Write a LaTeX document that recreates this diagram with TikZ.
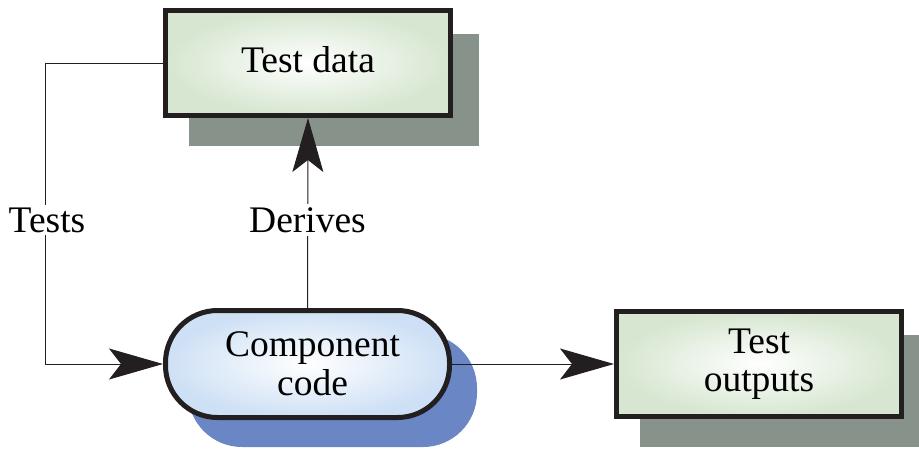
\documentclass[tikz,border=0pt]{standalone}
\usepackage{fontspec}
\setmainfont{Liberation Serif}
\usetikzlibrary{arrows.meta,calc}
\pgfdeclarelayer{background}
\pgfsetlayers{background,main}
\definecolor{boxgreen}{RGB}{214,230,208}
\definecolor{shadegreen}{RGB}{134,146,138}
\definecolor{boxblue}{RGB}{206,224,245}
\definecolor{shadeblue}{RGB}{107,134,197}
\definecolor{linegray}{RGB}{35,31,32}
\tikzset{
  bigtext/.style={font=\fontsize{37.5}{38.5}\selectfont},
  greenbox/.style={draw=linegray, line width=5pt, inner color=white, outer color=boxgreen,
    minimum width=285pt, minimum height=105pt, align=center, bigtext, inner sep=0pt},
  pillbox/.style={draw=linegray, line width=5pt, inner color=white, outer color=boxblue,
    rounded corners=52pt, minimum width=284pt, minimum height=107pt, align=center, bigtext, inner sep=0pt},
  conn/.style={draw=linegray, line width=1pt},
  tip/.style={-{Stealth[length=54pt,width=31pt,inset=12pt,fill=linegray]}},
  lbl/.style={fill=white, bigtext, inner sep=3pt},
}
\begin{document}
\begin{tikzpicture}[x=1pt,y=-1pt]
\useasboundingbox (0,0) rectangle (919,448);
% nodes
\node[greenbox] (td) at (308,63) {\raisebox{7pt}{Test data}};
\node[pillbox] (cc) at (307.5,364) {\hspace*{10pt}Component\\\hspace*{10pt}code};
\node[greenbox] (to) at (759,364) {Test\\outputs};
% shadows
\begin{pgfonlayer}{background}
  \fill[shadegreen] ($(td.north west)+(26,26)$) rectangle ($(td.south east)+(26,28)$);
  \fill[shadegreen] ($(to.north west)+(26,26)$) rectangle ($(to.south east)+(26,28)$);
  \fill[shadeblue, rounded corners=54pt] ($(cc.north west)+(25,26)$) rectangle ($(cc.south east)+(25,27)$);
\end{pgfonlayer}
% connectors
\draw[conn,tip] (td.west) -- ++(-118,0) |- (cc.west);
\draw[conn,tip] (cc.north) -- (td.south);
\draw[conn,tip] (cc.east) -- (to.west);
% labels
\node[lbl] (tests) at (47,220) {Tests};
\node[lbl] (derives) at (307.5,220) {Derives};
\end{tikzpicture}
\end{document}
